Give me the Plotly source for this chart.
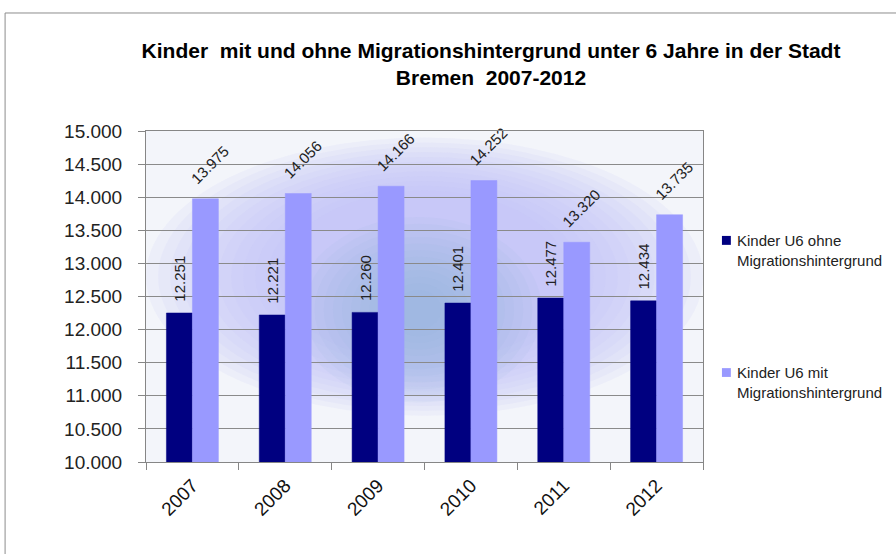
import plotly.graph_objects as go

years = ["2007", "2008", "2009", "2010", "2011", "2012"]
ohne = [12251, 12221, 12260, 12401, 12477, 12434]
mit = [13975, 14056, 14166, 14252, 13320, 13735]
name_ohne = "Kinder U6 ohne<br>Migrationshintergrund"
name_mit = "Kinder U6 mit<br>Migrationshintergrund"
title_text = "<b>Kinder  mit und ohne Migrationshintergrund unter 6 Jahre in der Stadt<br>Bremen  2007-2012</b>"

FONT = "Liberation Sans, Arial"
COL_OHNE = "#000080"
COL_MIT = "#9999ff"
NB = "\u00a0"

fig = go.Figure()
fig.add_trace(go.Bar(
    x=years, y=ohne, name=name_ohne,
    marker=dict(color=COL_OHNE, line=dict(color=COL_OHNE, width=0.5)),
    texttemplate=NB * 2 + "%{y:,d}", textposition="outside", textangle=-90, constraintext="none",
    textfont=dict(family=FONT, size=15, color="#222222"), cliponaxis=False,
))
fig.add_trace(go.Bar(
    x=years, y=mit, name=name_mit,
    marker=dict(color=COL_MIT, line=dict(color=COL_MIT, width=0.5)),
    texttemplate=NB * 3 + "%{y:,d}", textposition="outside", textangle=-45, constraintext="none",
    textfont=dict(family=FONT, size=15, color="#222222"), cliponaxis=False,
))

shapes = []
# soft background glow approximating the gradient fill (decoration only)
N = 12
for i in range(N):
    f = i / (N - 1)
    rx = 0.50 - 0.24 * f
    ry = 0.42 - 0.16 * f
    cx, cy = 0.50, 0.56
    shapes.append(dict(type="circle", xref="paper", yref="paper",
                       x0=cx - rx, x1=cx + rx, y0=cy - ry, y1=cy + ry,
                       fillcolor="#c2c2fa", opacity=0.13, line=dict(width=0), layer="below"))
for i in range(N):
    f = i / (N - 1)
    rx = 0.22 - 0.18 * f
    ry = 0.28 - 0.22 * f
    cx, cy = 0.49, 0.46
    shapes.append(dict(type="circle", xref="paper", yref="paper",
                       x0=cx - rx, x1=cx + rx, y0=cy - ry, y1=cy + ry,
                       fillcolor="#8eb0d8", opacity=0.08, line=dict(width=0), layer="below"))
# outer chart border
shapes.append(dict(type="rect", xref="paper", yref="paper", x0=-0.253, x1=1.4, y0=-0.35, y1=1.3565,
                   line=dict(color="#8c8c8c", width=1), fillcolor="rgba(0,0,0,0)", layer="below"))
# legend keys
shapes.append(dict(type="rect", xref="paper", yref="paper", x0=1.034, x1=1.050, y0=0.656, y1=0.683,
                   fillcolor=COL_OHNE, line=dict(width=0)))
shapes.append(dict(type="rect", xref="paper", yref="paper", x0=1.034, x1=1.050, y0=0.257, y1=0.2836,
                   fillcolor=COL_MIT, line=dict(width=0)))

annotations = [
    dict(text=name_ohne, xref="paper", yref="paper", x=1.0575, y=0.700, xanchor="left",
         yanchor="top", align="left", showarrow=False,
         font=dict(family=FONT, size=15, color="#222222")),
    dict(text=name_mit, xref="paper", yref="paper", x=1.0575, y=0.301, xanchor="left",
         yanchor="top", align="left", showarrow=False,
         font=dict(family=FONT, size=15, color="#222222")),
]

fig.update_layout(
    width=896, height=554,
    margin=dict(l=146, r=193, t=131, b=92, autoexpand=False),
    paper_bgcolor="white", plot_bgcolor="#f3f5fa",
    separators=",.",
    barmode="group", bargap=0.44, bargroupgap=0,
    title=dict(text=title_text, x=0.548, xanchor="center", xref="container",
               y=0.896, yanchor="top", yref="container",
               font=dict(family=FONT, size=21, color="#000000")),
    showlegend=False,
    shapes=shapes,
    annotations=annotations,
    xaxis=dict(type="category", tickson="boundaries", ticks="outside", ticklen=7,
               tickcolor="#868686", showline=True, linecolor="#868686", linewidth=1,
               mirror=True, tickangle=-45, ticklabelstandoff=4,
               tickfont=dict(family=FONT, size=19, color="#111111")),
    yaxis=dict(range=[10000, 15000], dtick=500, tickformat=",d", ticks="outside",
               ticklen=7, tickcolor="#868686", showline=True, linecolor="#868686",
               linewidth=1, mirror=True, showgrid=True, gridcolor="#8a8a8a", gridwidth=1,
               ticklabelstandoff=12,
               tickfont=dict(family=FONT, size=19, color="#222222")),
)

fig.write_html("out.html", config={"displayModeBar": False},
               post_script="document.body.style.margin='0';document.body.style.padding='0';")
